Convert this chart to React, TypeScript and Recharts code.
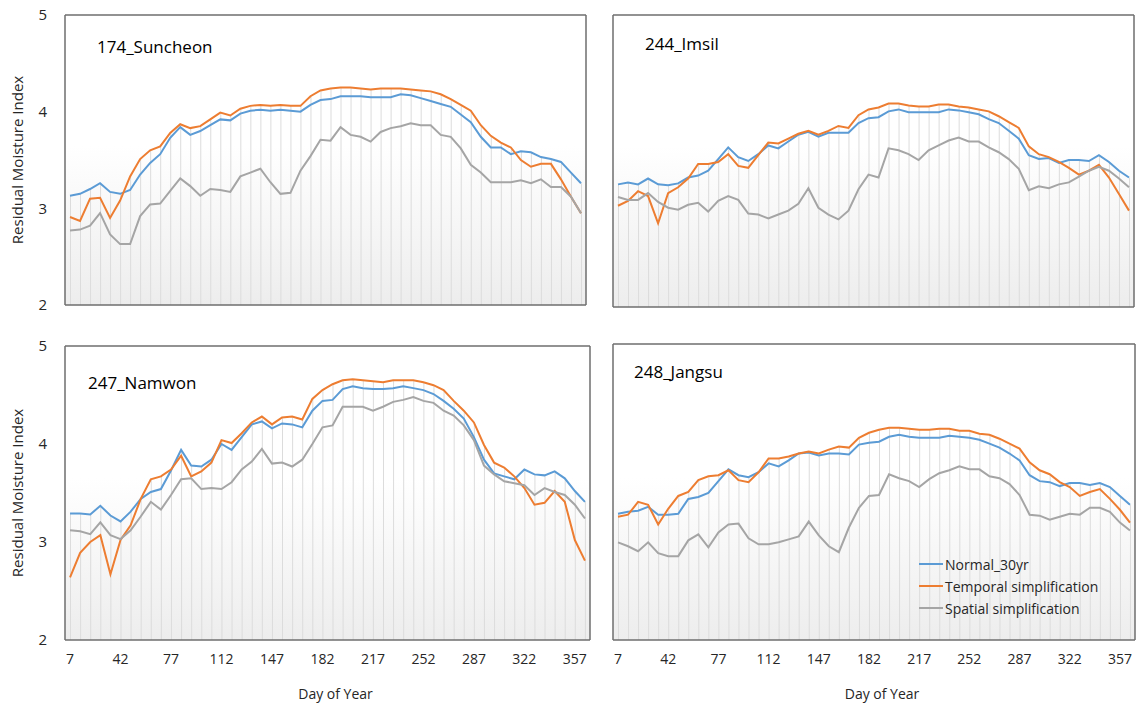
import {
  ComposedChart,
  Line,
  Bar,
  XAxis,
  YAxis,
  CartesianGrid,
} from "recharts";

const days = [
  7, 14, 21, 28, 35, 42, 49, 56, 63, 70, 77, 84, 91, 98, 105, 112, 119, 126, 133, 140, 147, 154, 161, 168, 175, 182,
  189, 196, 203, 210, 217, 224, 231, 238, 245, 252, 259, 266, 273, 280, 287, 294, 301, 308, 315, 322, 329, 336, 343,
  350, 357, 364,
];
const yTicks = [2, 3, 4, 5];

const seriesNames = ["Normal_30yr", "Temporal simplification", "Spatial simplification"];
const seriesColors = ["#5b9bd5", "#ed7d31", "#a5a5a5"];

// 174_Suncheon
const suncheonNormal = [
  3.13, 3.15, 3.2, 3.26, 3.17, 3.15, 3.19, 3.35, 3.47, 3.56, 3.73, 3.84, 3.76, 3.8, 3.86, 3.92, 3.91, 3.98, 4.01, 4.02,
  4.01, 4.02, 4.01, 4.0, 4.07, 4.12, 4.13, 4.16, 4.16, 4.16, 4.15, 4.15, 4.15, 4.18, 4.17, 4.14, 4.11, 4.08, 4.05, 3.97,
  3.89, 3.74, 3.63, 3.63, 3.56, 3.59, 3.58, 3.53, 3.51, 3.48, 3.37, 3.26,
];
const suncheonTemporal = [
  2.91, 2.87, 3.1, 3.11, 2.9, 3.08, 3.33, 3.51, 3.6, 3.64, 3.78, 3.87, 3.83, 3.85, 3.92, 3.99, 3.96, 4.03, 4.06, 4.07,
  4.06, 4.07, 4.06, 4.06, 4.16, 4.22, 4.24, 4.25, 4.25, 4.24, 4.23, 4.24, 4.24, 4.24, 4.23, 4.22, 4.21, 4.18, 4.13, 4.07,
  4.01, 3.86, 3.75, 3.68, 3.63, 3.5, 3.43, 3.46, 3.46, 3.3, 3.12, 2.95,
];
const suncheonSpatial = [
  2.77, 2.78, 2.82, 2.95, 2.73, 2.63, 2.63, 2.92, 3.04, 3.05, 3.18, 3.31, 3.23, 3.13, 3.2, 3.19, 3.17, 3.33, 3.37, 3.41,
  3.27, 3.15, 3.16, 3.39, 3.54, 3.71, 3.7, 3.84, 3.76, 3.74, 3.69, 3.79, 3.83, 3.85, 3.88, 3.86, 3.86, 3.76, 3.74, 3.62,
  3.45, 3.37, 3.27, 3.27, 3.27, 3.29, 3.26, 3.3, 3.22, 3.22, 3.12, 2.95,
];

// 244_Imsil
const imsilNormal = [
  3.26, 3.28, 3.26, 3.32, 3.26, 3.25, 3.27, 3.33, 3.35, 3.4, 3.52, 3.64, 3.54, 3.5, 3.57, 3.66, 3.63, 3.7, 3.77, 3.8,
  3.75, 3.79, 3.79, 3.79, 3.89, 3.94, 3.95, 4.01, 4.03, 4.0, 4.0, 4.0, 4.0, 4.03, 4.02, 4.0, 3.98, 3.93, 3.89, 3.81,
  3.73, 3.56, 3.52, 3.53, 3.48, 3.51, 3.51, 3.5, 3.56, 3.49, 3.4, 3.33,
];
const imsilTemporal = [
  3.04, 3.09, 3.19, 3.14, 2.86, 3.17, 3.23, 3.32, 3.47, 3.47, 3.49, 3.57, 3.45, 3.43, 3.56, 3.69, 3.68, 3.73, 3.78,
  3.81, 3.77, 3.81, 3.86, 3.84, 3.97, 4.03, 4.05, 4.09, 4.09, 4.07, 4.06, 4.06, 4.08, 4.08, 4.06, 4.05, 4.03, 4.01, 3.96,
  3.9, 3.84, 3.65, 3.57, 3.54, 3.49, 3.43, 3.36, 3.4, 3.46, 3.33, 3.16, 2.99,
];
const imsilSpatial = [
  3.13, 3.1, 3.1, 3.17, 3.08, 3.02, 3.0, 3.05, 3.07, 2.98, 3.09, 3.14, 3.1, 2.96, 2.95, 2.91, 2.95, 2.99, 3.06, 3.22,
  3.02, 2.95, 2.9, 2.99, 3.21, 3.36, 3.33, 3.63, 3.61, 3.57, 3.51, 3.61, 3.66, 3.71, 3.74, 3.7, 3.7, 3.64, 3.59, 3.52,
  3.42, 3.2, 3.24, 3.22, 3.26, 3.28, 3.34, 3.4, 3.44, 3.4, 3.32, 3.23,
];

// 247_Namwon
const namwonNormal = [
  3.29, 3.29, 3.28, 3.37, 3.27, 3.21, 3.31, 3.44, 3.51, 3.54, 3.73, 3.94, 3.78, 3.77, 3.84, 4.0, 3.94, 4.07, 4.2, 4.23,
  4.16, 4.21, 4.2, 4.17, 4.34, 4.44, 4.45, 4.56, 4.59, 4.57, 4.56, 4.56, 4.57, 4.59, 4.57, 4.55, 4.51, 4.44, 4.36, 4.26,
  4.07, 3.84, 3.7, 3.67, 3.64, 3.74, 3.69, 3.68, 3.72, 3.65, 3.52, 3.41,
];
const namwonTemporal = [
  2.64, 2.89, 3.0, 3.07, 2.67, 3.02, 3.17, 3.44, 3.64, 3.67, 3.74, 3.88, 3.67, 3.72, 3.81, 4.04, 4.01, 4.11, 4.22, 4.28,
  4.2, 4.27, 4.28, 4.25, 4.46, 4.55, 4.61, 4.65, 4.66, 4.65, 4.64, 4.63, 4.65, 4.65, 4.65, 4.63, 4.6, 4.55, 4.44, 4.34,
  4.22, 3.99, 3.81, 3.76, 3.67, 3.55, 3.38, 3.4, 3.52, 3.41, 3.02, 2.81,
];
const namwonSpatial = [
  3.12, 3.11, 3.08, 3.2, 3.07, 3.03, 3.12, 3.26, 3.41, 3.33, 3.48, 3.64, 3.65, 3.54, 3.55, 3.54, 3.61, 3.74, 3.82, 3.95,
  3.8, 3.81, 3.77, 3.84, 4.0, 4.17, 4.19, 4.38, 4.38, 4.38, 4.34, 4.38, 4.43, 4.45, 4.48, 4.44, 4.42, 4.34, 4.29, 4.19,
  4.04, 3.78, 3.69, 3.62, 3.6, 3.58, 3.48, 3.55, 3.51, 3.48, 3.38, 3.24,
];

// 248_Jangsu
const jangsuNormal = [
  3.28, 3.3, 3.31, 3.35, 3.27, 3.27, 3.28, 3.43, 3.45, 3.49, 3.61, 3.73, 3.67, 3.65, 3.7, 3.79, 3.76, 3.82, 3.89, 3.9,
  3.87, 3.89, 3.89, 3.88, 3.98, 4.0, 4.01, 4.06, 4.08, 4.06, 4.05, 4.05, 4.05, 4.07, 4.06, 4.05, 4.03, 3.99, 3.95, 3.89,
  3.82, 3.67, 3.61, 3.6, 3.56, 3.59, 3.59, 3.57, 3.59, 3.55, 3.46, 3.37,
];
const jangsuTemporal = [
  3.25, 3.27, 3.4, 3.37, 3.17, 3.33, 3.46, 3.5, 3.62, 3.66, 3.67, 3.72, 3.62, 3.6, 3.7, 3.84, 3.84, 3.86, 3.89, 3.91,
  3.89, 3.93, 3.96, 3.95, 4.05, 4.1, 4.13, 4.15, 4.15, 4.14, 4.13, 4.13, 4.14, 4.14, 4.12, 4.12, 4.09, 4.08, 4.04, 3.99,
  3.94, 3.8, 3.72, 3.68, 3.6, 3.55, 3.46, 3.5, 3.53, 3.43, 3.32, 3.19,
];
const jangsuSpatial = [
  2.99, 2.95, 2.9, 2.99, 2.88, 2.85, 2.85, 3.01, 3.07, 2.94, 3.09, 3.17, 3.18, 3.03, 2.97, 2.97, 2.99, 3.02, 3.05, 3.2,
  3.06, 2.95, 2.89, 3.14, 3.34, 3.46, 3.47, 3.68, 3.64, 3.61, 3.55, 3.63, 3.69, 3.72, 3.76, 3.73, 3.73, 3.66, 3.64, 3.58,
  3.47, 3.27, 3.26, 3.22, 3.25, 3.28, 3.27, 3.34, 3.34, 3.3, 3.19, 3.11,
];

const FONT = "'Open Sans', 'Noto Sans', sans-serif";
const TEXT = "#262626";
const FRAME = "#6e6e6e";

interface PanelProps {
  id: string;
  title: string;
  normal: number[];
  temporal: number[];
  spatial: number[];
  left: number;
  top: number;
  width: number;
  height: number;
  margin: { top: number; right: number; bottom: number; left: number };
  showYTicks: boolean;
  showXTicks: boolean;
  xHeight: number;
  titlePos: { left: number; top: number };
  showLegend?: boolean;
}

function Panel(p: PanelProps) {
  const data = days.map((day, i) => ({
    day,
    normal: p.normal[i],
    temporal: p.temporal[i],
    spatial: p.spatial[i],
    drop: Math.max(p.normal[i], p.temporal[i], p.spatial[i]),
  }));
  const keys = ["normal", "temporal", "spatial"];
  return (
    <div style={{ position: "absolute", left: p.left, top: p.top, width: p.width, height: p.height }}>
      <ComposedChart width={p.width} height={p.height} data={data} margin={p.margin} barCategoryGap={0}>
        <defs>
          <linearGradient id={`bg-${p.id}`} x1="0" y1="0" x2="0" y2="1">
            <stop offset="0%" stopColor="#ffffff" />
            <stop offset="45%" stopColor="#ffffff" />
            <stop offset="100%" stopColor="#ededed" />
          </linearGradient>
        </defs>
        <CartesianGrid horizontal={false} vertical={false} fill={`url(#bg-${p.id})`} />
        <XAxis
          dataKey="day"
          interval={4}
          tick={p.showXTicks ? { fontSize: 14, fill: TEXT, fontFamily: FONT } : false}
          tickLine={false}
          tickMargin={8}
          axisLine={{ stroke: FRAME, strokeWidth: 1.5 }}
          height={p.xHeight}
          label={
            p.showXTicks
              ? {
                  value: "Day of Year",
                  position: "insideBottom",
                  offset: 6,
                  dx: 8,
                  style: { fontSize: 14, fill: TEXT, fontFamily: FONT },
                }
              : undefined
          }
        />
        <XAxis
          xAxisId="top"
          dataKey="day"
          orientation="top"
          tick={false}
          tickLine={false}
          height={1}
          axisLine={{ stroke: FRAME, strokeWidth: 1.5 }}
        />
        <YAxis
          type="number"
          domain={[2, 5]}
          ticks={yTicks}
          tick={p.showYTicks ? { fontSize: 15, fill: TEXT, fontFamily: FONT } : false}
          tickLine={false}
          tickMargin={12}
          width={p.showYTicks ? 65 : 1}
          axisLine={{ stroke: FRAME, strokeWidth: 1.5 }}
          label={
            p.showYTicks
              ? {
                  value: "Residual Moisture Index",
                  angle: -90,
                  position: "insideLeft",
                  offset: 18,
                  style: { fontSize: 15, fill: TEXT, fontFamily: FONT, textAnchor: "middle" },
                }
              : undefined
          }
        />
        <YAxis
          yAxisId="right"
          orientation="right"
          type="number"
          domain={[2, 5]}
          tick={false}
          tickLine={false}
          width={1}
          axisLine={{ stroke: FRAME, strokeWidth: 1.5 }}
        />
        <Bar dataKey="drop" barSize={1} fill="#dcdcdc" isAnimationActive={false} />
        {keys.map((k, i) => (
          <Line
            key={k}
            dataKey={k}
            type="linear"
            stroke={seriesColors[i]}
            strokeWidth={2}
            dot={false}
            isAnimationActive={false}
          />
        ))}
      </ComposedChart>
      <div
        style={{
          position: "absolute",
          left: p.titlePos.left,
          top: p.titlePos.top,
          fontFamily: FONT,
          fontSize: 17,
          lineHeight: "22px",
          color: "#000",
        }}
      >
        {p.title}
      </div>
      {p.showLegend && (
        <div style={{ position: "absolute", left: 319, top: 223, fontFamily: FONT, fontSize: 14, color: TEXT }}>
          {seriesNames.map((name, i) => (
            <div key={name} style={{ display: "flex", alignItems: "center", height: 22 }}>
              <span style={{ display: "inline-block", width: 24, height: 2, background: seriesColors[i], marginRight: 2 }} />
              <span>{name}</span>
            </div>
          ))}
        </div>
      )}
    </div>
  );
}

export default function App() {
  return (
    <div style={{ position: "absolute", left: 0, top: 0, width: 1143, height: 705, background: "#fff" }}>
      <Panel
        id="p1"
        title="174_Suncheon"
        normal={suncheonNormal}
        temporal={suncheonTemporal}
        spatial={suncheonSpatial}
        left={0}
        top={0}
        width={600}
        height={320}
        margin={{ top: 14, right: 13, bottom: 0, left: 0 }}
        showYTicks
        showXTicks={false}
        xHeight={15}
        titlePos={{ left: 97, top: 36 }}
      />
      <Panel
        id="p2"
        title="244_Imsil"
        normal={imsilNormal}
        temporal={imsilTemporal}
        spatial={imsilSpatial}
        left={600}
        top={0}
        width={543}
        height={320}
        margin={{ top: 14, right: 8, bottom: 0, left: 12 }}
        showYTicks={false}
        showXTicks={false}
        xHeight={13}
        titlePos={{ left: 45, top: 33 }}
      />
      <Panel
        id="p3"
        title="247_Namwon"
        normal={namwonNormal}
        temporal={namwonTemporal}
        spatial={namwonSpatial}
        left={0}
        top={330}
        width={600}
        height={375}
        margin={{ top: 15, right: 9, bottom: 0, left: 0 }}
        showYTicks
        showXTicks
        xHeight={65}
        titlePos={{ left: 88, top: 42 }}
      />
      <Panel
        id="p4"
        title="248_Jangsu"
        normal={jangsuNormal}
        temporal={jangsuTemporal}
        spatial={jangsuSpatial}
        left={600}
        top={330}
        width={543}
        height={375}
        margin={{ top: 13, right: 7, bottom: 0, left: 12 }}
        showYTicks={false}
        showXTicks
        xHeight={65}
        titlePos={{ left: 34, top: 31 }}
        showLegend
      />
    </div>
  );
}
